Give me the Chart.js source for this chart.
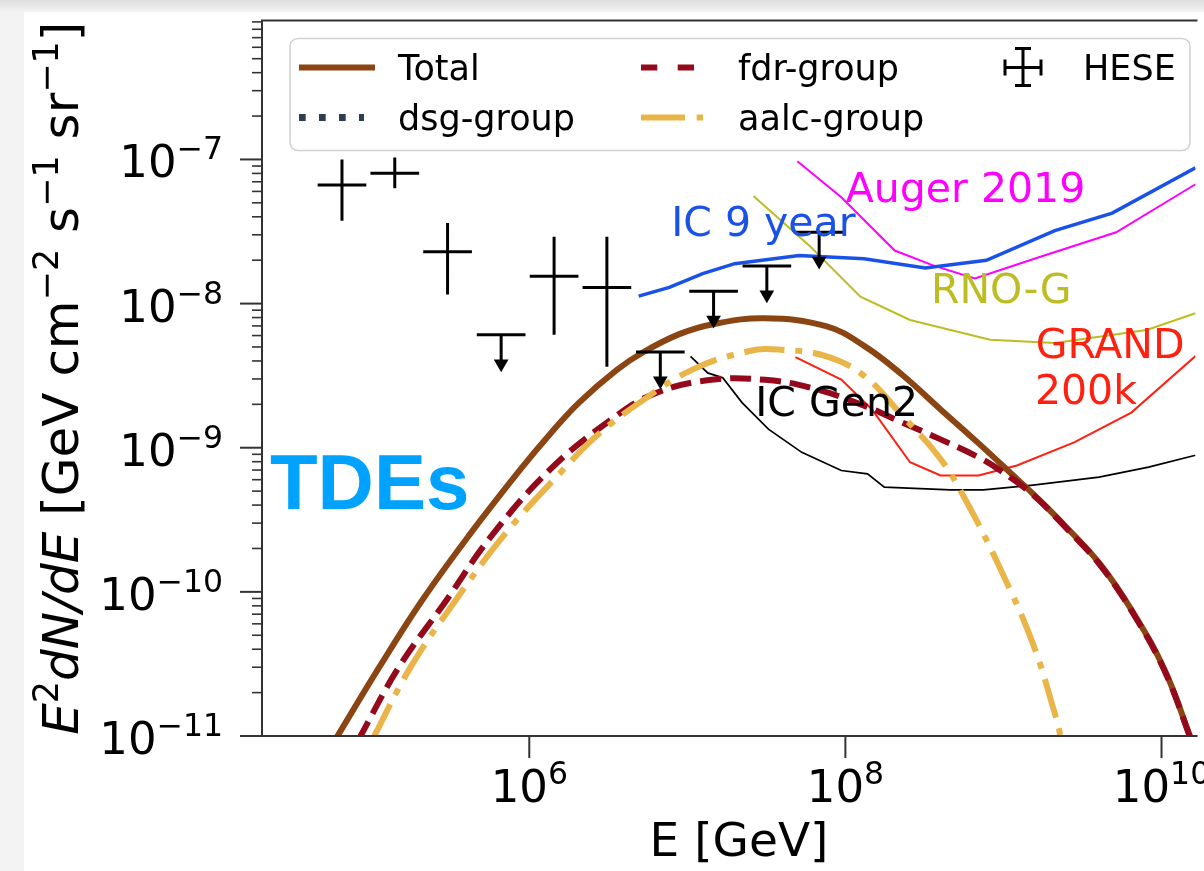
<!DOCTYPE html>
<html lang="en">
<head>
<meta charset="UTF-8">
<title>TDEs neutrino flux</title>
<script src="https://cdn.jsdelivr.net/npm/chart.js"></script>
<style>
  html, body { margin: 0; padding: 0; height: 100%; background: #f3f3f3 linear-gradient(#dedede, #f3f3f3 12px) no-repeat; }
  #wrap { position: absolute; left: 24px; top: 12px; width: 1180px; height: 859px; background: #fff; }
</style>
</head>
<body>
<div id="wrap"><canvas id="fluxChart" width="1180" height="859"></canvas></div>
<script>
// all values are log10(E / GeV) and log10(E^2 dN/dE / GeV cm^-2 s^-1 sr^-1)
const totalLogE = [4.767, 5.049, 5.318, 5.613, 5.945, 6.140, 6.315, 6.554, 6.723, 6.949, 7.162, 7.488, 7.877, 8.121, 8.359, 8.604, 8.843, 9.087, 9.188, 9.395, 9.608, 9.815, 10.022, 10.191];
const totalLogF = [-11.036, -10.526, -10.065, -9.617, -9.149, -8.894, -8.687, -8.460, -8.336, -8.212, -8.143, -8.102, -8.157, -8.295, -8.494, -8.736, -8.970, -9.218, -9.321, -9.548, -9.803, -10.134, -10.547, -11.036];

const fdrLogE = [4.918, 5.174, 5.467, 5.757, 6.134, 6.510, 6.791, 7.153, 7.491, 7.781, 8.118, 8.359, 8.602, 8.842, 8.978, 9.188, 9.395, 9.608, 9.815, 10.022, 10.191];
const fdrLogF = [-11.029, -10.524, -10.072, -9.617, -9.149, -8.811, -8.625, -8.529, -8.529, -8.584, -8.708, -8.825, -8.942, -9.066, -9.156, -9.328, -9.555, -9.810, -10.140, -10.554, -11.036];

const aalcLogE = [5.006, 5.248, 5.530, 5.843, 6.219, 6.428, 6.698, 7.032, 7.394, 7.588, 7.876, 8.118, 8.359, 8.602, 8.767, 8.978, 9.187, 9.331, 9.369];
const aalcLogF = [-11.029, -10.524, -10.065, -9.603, -9.147, -8.915, -8.687, -8.458, -8.329, -8.320, -8.364, -8.501, -8.777, -9.078, -9.376, -9.835, -10.361, -10.868, -11.036];

const ic9LogE = [6.692, 6.886, 7.097, 7.300, 7.707, 8.118, 8.505, 8.892, 9.325, 9.688, 10.215];
const ic9LogF = [-7.948, -7.888, -7.792, -7.723, -7.666, -7.689, -7.753, -7.700, -7.494, -7.372, -7.057];

const augerLogE = [7.696, 7.974, 8.312, 8.554, 8.819, 9.229, 9.713, 10.215];
const augerLogF = [-7.012, -7.262, -7.632, -7.735, -7.826, -7.677, -7.505, -7.172];

const rnoLogE = [7.418, 7.781, 8.095, 8.409, 8.916, 9.325, 9.906, 10.215];
const rnoLogF = [-7.253, -7.608, -7.952, -8.114, -8.251, -8.274, -8.183, -8.067];

const grandLogE = [7.684, 7.974, 8.167, 8.409, 8.602, 8.842, 9.085, 9.447, 9.809, 10.215];
const grandLogF = [-8.371, -8.527, -8.733, -9.101, -9.192, -9.192, -9.123, -8.963, -8.756, -8.364];

const gen2LogE = [7.020, 7.129, 7.224, 7.346, 7.513, 7.724, 7.974, 8.140, 8.246, 8.665, 8.873, 9.187, 9.605, 9.918, 10.215];
const gen2LogF = [-8.366, -8.481, -8.515, -8.687, -8.871, -9.032, -9.158, -9.181, -9.273, -9.293, -9.293, -9.259, -9.204, -9.135, -9.052];

// HESE measured points and upper limits
const heseLogE = [4.815, 5.149, 5.483, 6.157, 6.491];
const heseLogF = [-7.177, -7.096, -7.640, -7.811, -7.888];
const heseLogLo = [-7.425, -7.200, -7.937, -8.217, -8.439];
const heseLogHi = [-7.000, -6.986, -7.441, -7.537, -7.537];
const heseUlLogE = [5.822, 6.829, 7.166, 7.503, 7.834];
const heseUlLogF = [-8.217, -8.336, -7.914, -7.739, -7.505];
const heseBinHalf = 0.154;   // half width of energy bins, in decades
const ulArrow = 0.2;         // arrow stem length, in decades

// axis ticks
const xTickExp = [6, 8, 10];
const xTickLabels = ['6', '8', '10'];
const yTickExp = [-11, -10, -9, -8, -7];
const yTickLabels = ['\u221211', '\u221210', '\u22129', '\u22128', '\u22127'];

const colors = {
  total: '#8b4513', fdr: '#94091b', aalc: '#e9b448', dsg: '#2c3e50',
  ic9: '#1a52e8', auger: '#ff00ff', rno: '#bcbd22', grand: '#ff2010', gen2: '#000000', tde: '#00a2ff'
};

const p10 = v => Math.pow(10, v);
const pts = (le, lf) => le.map((e, i) => ({ x: p10(e), y: p10(lf[i]) }));
// line pieces separated by gaps
function pieces(list) {
  const out = [];
  list.forEach(([a, b]) => {
    out.push({ x: p10(a[0]), y: p10(a[1]) }, { x: p10(b[0]), y: p10(b[1]) }, { x: p10(b[0]), y: null });
  });
  return out;
}

const heseBars = [];
heseLogE.forEach((e, i) => {
  heseBars.push([[e, heseLogLo[i]], [e, heseLogHi[i]]]);
  heseBars.push([[e - heseBinHalf, heseLogF[i]], [e + heseBinHalf, heseLogF[i]]]);
});
heseUlLogE.forEach((e, i) => {
  heseBars.push([[e - heseBinHalf, heseUlLogF[i]], [e + heseBinHalf, heseUlLogF[i]]]);
  heseBars.push([[e, heseUlLogF[i]], [e, heseUlLogF[i] - ulArrow]]);
});

const annotations = [
  { text: 'IC 9 year', le: 6.898, lf: -7.528, color: colors.ic9 },
  { text: 'Auger 2019', le: 8.002, lf: -7.298, color: colors.auger },
  { text: 'RNO-G', le: 8.541, lf: -7.999, color: colors.rno },
  { text: 'GRAND', le: 9.204, lf: -8.377, color: colors.grand },
  { text: '200k', le: 9.199, lf: -8.699, color: colors.grand },
  { text: 'IC Gen2', le: 7.429, lf: -8.779, color: colors.gen2 }
];

const legendEntries = [
  { text: 'Total', col: 0, row: 0, color: colors.total, width: 6, dash: [], len: 76 },
  { text: 'dsg-group', col: 0, row: 1, color: colors.dsg, width: 7, dash: [6.7, 13.3], len: 65 },
  { text: 'fdr-group', col: 1, row: 0, color: colors.fdr, width: 6, dash: [16.3, 20.4], len: 62 },
  { text: 'aalc-group', col: 1, row: 1, color: colors.aalc, width: 6, dash: [44, 11.7, 6.7, 20], len: 62 },
  { text: 'HESE', col: 2, row: 0, errbar: true }
];

function mathText(ctx, parts, size, x, y, align) {
  const fontFor = s => (s === 'i' ? 'italic ' : '') + (s === 's' ? size * 0.7 : size) + 'px "DejaVu Sans"';
  let w = 0;
  parts.forEach(([t, s]) => { ctx.font = fontFor(s); w += ctx.measureText(t).width; });
  let cx = align === 'right' ? x - w : align === 'center' ? x - w / 2 : x;
  ctx.textAlign = 'left';
  parts.forEach(([t, s]) => {
    ctx.font = fontFor(s);
    ctx.fillText(t, cx, s === 's' ? y - size * 0.4 : y);
    cx += ctx.measureText(t).width;
  });
}

const mplAxes = {
  id: 'mplAxes',
  afterDraw(chart) {
    const { ctx, chartArea: ca, scales: { x, y } } = chart;
    ctx.save();
    ctx.textBaseline = 'alphabetic';

    // in-plot labels
    ctx.font = '41px "DejaVu Sans"';
    annotations.forEach(a => {
      ctx.fillStyle = a.color;
      ctx.fillText(a.text, x.getPixelForValue(p10(a.le)), y.getPixelForValue(p10(a.lf)));
    });
    ctx.fillStyle = colors.tde;
    ctx.font = 'bold 78px "Liberation Sans"';
    ctx.fillText('TDEs', x.getPixelForValue(p10(4.359)), y.getPixelForValue(p10(-9.422)));

    // spines
    ctx.strokeStyle = '#333';
    ctx.lineWidth = 2;
    ctx.beginPath();
    ctx.moveTo(ca.right + 2, ca.top); ctx.lineTo(ca.left, ca.top);
    ctx.lineTo(ca.left, ca.bottom); ctx.lineTo(ca.right + 2, ca.bottom);
    ctx.stroke();

    // y ticks
    ctx.fillStyle = '#000';
    const yMin = Math.log10(y.min), yMax = Math.log10(y.max);
    for (let n = Math.floor(yMin); n <= Math.ceil(yMax); n++) {
      for (let k = 1; k <= 9; k++) {
        const lv = n + Math.log10(k);
        if (lv < yMin - 1e-9 || lv > yMax) continue;
        const py = y.getPixelForValue(p10(lv));
        ctx.lineWidth = k === 1 ? 2 : 1.6;
        ctx.beginPath();
        ctx.moveTo(ca.left, py); ctx.lineTo(ca.left - (k === 1 ? 22 : 10), py);
        ctx.stroke();
      }
    }
    yTickExp.forEach((n, i) => {
      const py = y.getPixelForValue(p10(n));
      mathText(ctx, [['10', ''], [yTickLabels[i], 's']], 45, ca.left - 39, py + 18, 'right');
    });

    // x ticks
    xTickExp.forEach((n, i) => {
      const px = x.getPixelForValue(p10(n));
      ctx.lineWidth = 2;
      ctx.beginPath();
      ctx.moveTo(px, ca.bottom); ctx.lineTo(px, ca.bottom + 22);
      ctx.stroke();
      mathText(ctx, [['10', ''], [xTickLabels[i], 's']], 45, px, ca.bottom + 66, 'center');
    });

    // axis titles
    mathText(ctx, [['E [GeV]', '']], 47, 715, ca.bottom + 120, 'center');
    ctx.save();
    ctx.translate(54, (ca.top + ca.bottom) / 2);
    ctx.rotate(-Math.PI / 2);
    mathText(ctx, [['E', 'i'], ['2', 's'], ['dN/dE', 'i'], [' [GeV cm', ''], ['\u22122', 's'],
      [' s', ''], ['\u22121', 's'], [' sr', ''], ['\u22121', 's'], [']', '']], 50, 0, 0, 'center');
    ctx.restore();

    // legend
    const lx = ca.left + 28, ly = ca.top + 18, lw = 900, lh = 112;
    ctx.beginPath();
    ctx.roundRect(lx, ly, lw, lh, 8);
    ctx.fillStyle = 'rgba(255,255,255,0.8)';
    ctx.fill();
    ctx.strokeStyle = '#d0d0d0';
    ctx.lineWidth = 1.5;
    ctx.stroke();
    const colX = [lx + 9, lx + 351, lx + 733];
    const textX = [lx + 108, lx + 448, lx + 793];
    const rowY = [ly + 29, ly + 79];
    ctx.font = '35px "DejaVu Sans"';
    legendEntries.forEach(en => {
      const hx = colX[en.col], hy = rowY[en.row];
      if (en.errbar) {
        const cx = hx;
        ctx.strokeStyle = '#000';
        ctx.lineWidth = 3;
        ctx.beginPath();
        ctx.moveTo(cx, hy - 19); ctx.lineTo(cx, hy + 18);
        ctx.moveTo(cx - 18, hy); ctx.lineTo(cx + 18, hy);
        ctx.moveTo(cx - 8, hy - 19); ctx.lineTo(cx + 8, hy - 19);
        ctx.moveTo(cx - 8, hy + 18); ctx.lineTo(cx + 8, hy + 18);
        ctx.moveTo(cx - 18, hy - 8); ctx.lineTo(cx - 18, hy + 8);
        ctx.moveTo(cx + 18, hy - 8); ctx.lineTo(cx + 18, hy + 8);
        ctx.stroke();
      } else {
        ctx.strokeStyle = en.color;
        ctx.lineWidth = en.width;
        ctx.setLineDash(en.dash);
        ctx.beginPath();
        ctx.moveTo(hx, hy); ctx.lineTo(hx + en.len, hy);
        ctx.stroke();
        ctx.setLineDash([]);
      }
      ctx.fillStyle = '#000';
      ctx.fillText(en.text, textX[en.col], hy + 12.5);
    });
    ctx.restore();
  }
};

function lineSet(label, le, lf, color, width, dash, smooth) {
  return {
    label, data: pts(le, lf), borderColor: color, borderWidth: width, borderDash: dash || [],
    pointRadius: 0, fill: false, tension: smooth ? 0.4 : 0, spanGaps: false
  };
}

const ctx = document.getElementById('fluxChart').getContext('2d');
const chart = new Chart(ctx, {
  type: 'line',
  data: {
    datasets: [
      // first dataset is drawn on top
      { label: 'HESE', data: heseUlLogE.map((e, i) => ({ x: p10(e), y: p10(heseUlLogF[i] - ulArrow) })),
        showLine: false, pointStyle: 'triangle', rotation: 180, pointRadius: 8.5,
        pointBackgroundColor: '#000', pointBorderWidth: 0, borderColor: '#000' },
      { label: 'HESE', data: pieces(heseBars), borderColor: '#000', borderWidth: 3, pointRadius: 0, spanGaps: false },
      lineSet('aalc-group', aalcLogE, aalcLogF, colors.aalc, 6, [40, 11, 7, 11], true),
      lineSet('fdr-group', fdrLogE, fdrLogF, colors.fdr, 6, [21, 9], true),
      lineSet('Total', totalLogE, totalLogF, colors.total, 6, [], true),
      { label: 'dsg-group', data: [], borderColor: colors.dsg, borderDash: [6.7, 13.3], borderWidth: 7, pointRadius: 0 },
      lineSet('IC 9 year', ic9LogE, ic9LogF, colors.ic9, 3.5),
      lineSet('Auger 2019', augerLogE, augerLogF, colors.auger, 2),
      lineSet('RNO-G', rnoLogE, rnoLogF, colors.rno, 2),
      lineSet('GRAND 200k', grandLogE, grandLogF, colors.grand, 2),
      lineSet('IC Gen2', gen2LogE, gen2LogF, colors.gen2, 1.7)
    ]
  },
  options: {
    responsive: false,
    animation: false,
    events: [],
    layout: { padding: { left: 238, top: 3, right: 0, bottom: 135 } },
    plugins: { legend: { display: false }, tooltip: { enabled: false } },
    scales: {
      x: { type: 'logarithmic', display: false, bounds: 'data', min: p10(4.309), max: p10(10.215) },
      y: { type: 'logarithmic', display: false, bounds: 'data', min: 1e-11, max: p10(-6.036) }
    }
  },
  plugins: [mplAxes]
});
</script>
</body>
</html>
